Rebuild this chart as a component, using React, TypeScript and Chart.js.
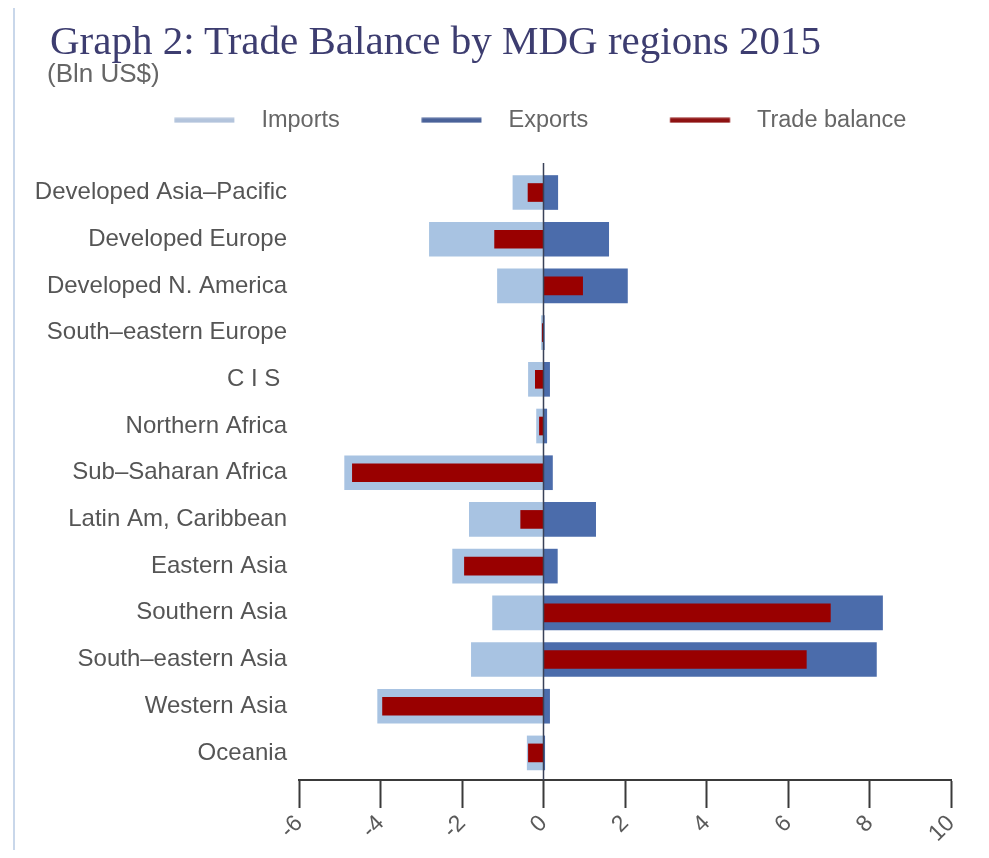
import React, { useEffect, useRef } from 'react';
import { Chart, registerables } from 'chart.js';

Chart.register(...registerables);

const titleText = 'Graph 2: Trade Balance by MDG regions 2015';
const subtitleText = '(Bln US$)';

const regions = [
  'Developed Asia–Pacific',
  'Developed Europe',
  'Developed N. America',
  'South–eastern Europe',
  'C I S ',
  'Northern Africa',
  'Sub–Saharan Africa',
  'Latin Am, Caribbean',
  'Eastern Asia',
  'Southern Asia',
  'South–eastern Asia',
  'Western Asia',
  'Oceania',
];

const imports = [-0.75, -2.8, -1.13, -0.05, -0.37, -0.17, -4.88, -1.82, -2.23, -1.25, -1.77, -4.07, -0.4];
const exportsV = [0.35, 1.6, 2.06, 0.02, 0.15, 0.08, 0.22, 1.28, 0.34, 8.32, 8.17, 0.15, 0.03];
const balance = [-0.38, -1.2, 0.96, -0.03, -0.2, -0.1, -4.69, -0.56, -1.94, 7.04, 6.45, -3.95, -0.37];

const xTickValues = [-6, -4, -2, 0, 2, 4, 6, 8, 10];
const seriesNames = ['Imports', 'Exports', 'Trade balance'];
const seriesColors = ['#a8c3e2', '#4b6cab', '#990000'];
const legendColors = ['#b3c4dc', '#4a6299', '#8e1212'];

const W = 973;
const H = 842;
const LEGEND_FONT = 23.5;
const LEGEND_PAD = 0;
const LEGEND_BOX = 157;
const LINE_LEN = 60;
const LINE_GAP = 27;
const LINE_THICK = 5;

function makeLineImage(color: string) {
  const c = document.createElement('canvas');
  const half = LEGEND_FONT / 2;
  const center = LEGEND_BOX / 2;
  const lineEnd = LEGEND_BOX + half - LINE_GAP - center;
  const lineStart = lineEnd - LINE_LEN;
  const ext = Math.ceil(Math.max(Math.abs(lineStart), Math.abs(lineEnd)));
  c.width = ext * 2;
  c.height = LINE_THICK + 1;
  const g = c.getContext('2d')!;
  g.fillStyle = color;
  g.fillRect(ext + lineStart, 0.5, LINE_LEN, LINE_THICK);
  return c;
}

const zeroLine = {
  id: 'zeroLine',
  afterDatasetsDraw(chart: any) {
    const { ctx, chartArea, scales } = chart;
    const x = scales.x.getPixelForValue(0);
    ctx.save();
    ctx.strokeStyle = '#3a4258';
    ctx.lineWidth = 1.5;
    ctx.beginPath();
    ctx.moveTo(x, chartArea.top);
    ctx.lineTo(x, chartArea.bottom);
    ctx.stroke();
    ctx.restore();
  },
};

export default function App() {
  const ref = useRef<HTMLCanvasElement | null>(null);

  useEffect(() => {
    if (!ref.current) return;
    const images = legendColors.map(makeLineImage);
    const toPts = (arr: number[]) => arr.map((v, i) => ({ x: v, y: i }));
    const chart = new Chart(ref.current, {
      type: 'bar',
      data: {
        datasets: [
          { label: seriesNames[0], data: toPts(imports) as any, backgroundColor: seriesColors[0], barThickness: 34, order: 3, xAxisID: 'x', yAxisID: 'y' },
          { label: seriesNames[1], data: toPts(exportsV) as any, backgroundColor: seriesColors[1], barThickness: 34, order: 2, xAxisID: 'x', yAxisID: 'y' },
          { label: seriesNames[2], data: toPts(balance) as any, backgroundColor: seriesColors[2], barThickness: 18, order: 1, xAxisID: 'x', yAxisID: 'y' },
        ],
      },
      options: {
        indexAxis: 'y',
        animation: false,
        responsive: false,
        grouped: false,
        layout: { padding: { left: 10, right: 0, top: 100.5, bottom: 0 } },
        plugins: {
          title: { display: false },
          subtitle: { display: false },
          legend: {
            display: true,
            position: 'top',
            align: 'center',
            labels: {
              usePointStyle: true,
              pointStyleWidth: LEGEND_BOX,
              boxHeight: LEGEND_FONT,
              padding: LEGEND_PAD,
              color: '#666666',
              font: { family: '"Liberation Sans", Arial, sans-serif', size: LEGEND_FONT },
              generateLabels: () =>
                seriesNames.map((name, i) => ({
                  text: name,
                  fillStyle: legendColors[i],
                  strokeStyle: legendColors[i],
                  fontColor: '#666666',
                  lineWidth: 0,
                  pointStyle: images[i],
                  datasetIndex: i,
                  hidden: false,
                })) as any,
            },
          },
          tooltip: { enabled: false },
        },
        scales: {
          x: {
            type: 'linear',
            position: 'bottom',
            min: -6,
            max: 10,
            afterBuildTicks: (s: any) => {
              s.ticks = xTickValues.map((v) => ({ value: v }));
            },
            afterFit: (s: any) => {
              s.height = 70;
            },
            ticks: {
              autoSkip: false,
              maxRotation: 45,
              minRotation: 45,
              padding: 2,
              color: '#5a5a5a',
              font: { family: '"Liberation Sans", Arial, sans-serif', size: 23 },
            },
            grid: {
              drawOnChartArea: false,
              drawTicks: true,
              tickLength: 28,
              tickColor: '#3a3a3a',
              tickWidth: 2,
            },
            border: { display: true, color: '#3a3a3a', width: 2 },
          },
          xTop: {
            type: 'linear',
            position: 'top',
            display: true,
            grid: { display: false, drawTicks: false },
            border: { display: false },
            ticks: { display: false },
            afterFit: (s: any) => {
              s.height = 21;
            },
          },
          yRight: {
            type: 'linear',
            position: 'right',
            display: true,
            grid: { display: false, drawTicks: false },
            border: { display: false },
            ticks: { display: false },
            afterFit: (s: any) => {
              s.width = 30;
            },
          },
          y: {
            type: 'linear',
            position: 'left',
            reverse: true,
            offset: false,
            min: -0.632,
            max: 12.58,
            bounds: 'data',
            afterBuildTicks: (s: any) => {
              s.ticks = regions.map((_, i) => ({ value: i }));
            },
            afterFit: (s: any) => {
              s.width = 281;
            },
            ticks: {
              autoSkip: false,
              padding: 12,
              color: '#555555',
              font: { family: '"Liberation Sans", Arial, sans-serif', size: 24 },
              callback: (v: any) => regions[v as number],
            },
            grid: { display: false, drawTicks: false },
            border: { display: false },
          },
        },
      } as any,
      plugins: [zeroLine],
    });
    return () => chart.destroy();
  }, []);

  return (
    <div style={{ position: 'relative', width: W, height: H }}>
      <div style={{ position: 'absolute', left: 5, top: -8, width: 2, height: 858, background: '#c9d7ea' }} />
      <canvas ref={ref} width={W} height={H} style={{ display: 'block', width: W, height: H }} />
      <div
        style={{
          position: 'absolute',
          left: 42,
          top: 12,
          fontFamily: '"Liberation Serif", "Times New Roman", serif',
          fontSize: 41,
          lineHeight: '41px',
          color: '#3d3d70',
          whiteSpace: 'nowrap',
        }}
      >
        {titleText}
      </div>
      <div
        style={{
          position: 'absolute',
          left: 39,
          top: 52,
          fontFamily: '"Liberation Sans", Arial, sans-serif',
          fontSize: 26,
          lineHeight: '26px',
          color: '#666666',
          whiteSpace: 'nowrap',
        }}
      >
        {subtitleText}
      </div>
    </div>
  );
}
